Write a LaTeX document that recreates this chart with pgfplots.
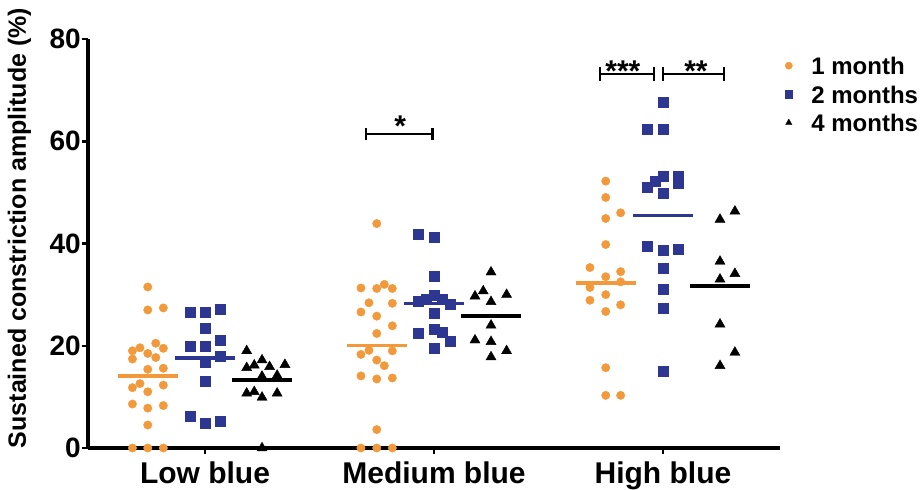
\documentclass[border=0pt]{standalone}
\usepackage{fontspec}
\setmainfont{Liberation Sans}
\usepackage{pgfplots}
\pgfplotsset{compat=1.18}

\definecolor{orng}{RGB}{242,154,59}
\definecolor{navy}{RGB}{45,55,145}

\begin{document}
\begin{tikzpicture}
\begin{axis}[
  name=ax,
  scale only axis,
  width=692pt, height=409pt,
  xmin=-0.511, xmax=2.511, ymin=0, ymax=80,
  axis x line=bottom, axis y line=left,
  axis line style={line width=3.5pt,-},
  xtick={0,1,2}, xticklabels={Low blue,Medium blue,High blue},
  ytick={0,20,40,60,80},
  minor tick num=0,
  tick align=outside, major tick length=6pt,
  tick style={line width=2.5pt,black},
  /pgf/number format/assume math mode=true,
  yticklabel style={font=\fontsize{28}{30}\selectfont\bfseries, inner sep=1pt},
  xticklabel style={font=\fontsize{30}{32}\selectfont\bfseries, yshift=-4pt},
  ylabel={Sustained constriction amplitude (\%)},
  every axis y label/.style={at={(axis description cs:-0.099,0.538)},rotate=90,anchor=center,
    font=\fontsize{25}{27}\selectfont\bfseries},
  clip=false,
  legend cell align=left,
  legend image code/.code={\draw[#1, mark size=3.6pt] plot coordinates {(0pt,0pt)};},
  legend style={at={(axis description cs:1,1)}, anchor=north west,
    xshift=5pt, yshift=-15.5pt, draw=none, fill=none, inner sep=0pt,
    font=\fontsize{24}{26}\selectfont\bfseries, row sep=6.5pt,
    nodes={inner sep=2pt, text height=18pt, text depth=0pt},
    /tikz/every odd column/.append style={column sep=17pt}},
]
% 1 month
\addplot[only marks, mark=*, mark size=4.2pt, color=orng, mark options={draw=orng, fill=orng}] coordinates {
(-0.250,31.5) (-0.250,27.0) (-0.182,27.4)
(-0.317,19.0) (-0.284,19.6) (-0.215,20.5) (-0.182,19.5)
(-0.317,17.4) (-0.250,18.5) (-0.215,17.7)
(-0.250,15.4) (-0.182,15.6)
(-0.317,11.8) (-0.284,12.6) (-0.182,12.3) (-0.250,11.0)
(-0.317,8.6) (-0.250,7.8) (-0.182,8.3) (-0.250,4.5)
(-0.317,0) (-0.250,0) (-0.182,0)
(0.750,43.9)
(0.681,31.3) (0.750,31.2) (0.783,32.0) (0.818,31.2)
(0.716,28.4) (0.818,28.3)
(0.681,26.6) (0.750,25.8) (0.818,23.9) (0.750,22.4)
(0.681,18.3) (0.716,19.1) (0.818,19.0)
(0.750,17.2) (0.783,16.1)
(0.681,14.1) (0.750,13.5) (0.818,13.7)
(0.750,3.6)
(0.681,0) (0.750,0) (0.818,0)
(1.750,52.2) (1.750,49.0) (1.750,44.9) (1.815,46.0) (1.750,39.8)
(1.681,35.3) (1.815,34.5) (1.750,33.5) (1.681,31.4) (1.815,32.5)
(1.681,28.9) (1.750,30.0) (1.815,28.0) (1.750,26.7)
(1.750,15.7) (1.750,10.3) (1.815,10.3)
};
\addlegendentry{1 month}
% 2 months
\addplot[only marks, mark=square*, mark size=5pt, color=navy, mark options={draw=navy, fill=navy}] coordinates {
(-0.066,26.5) (0,26.5) (0.066,27.1) (0,23.4) (-0.066,20.0) (0,20.0) (0.066,21.1)
(0.066,17.9) (0,16.7) (0,13.0) (-0.066,6.3) (0,4.8) (0.066,5.2)
(0.932,41.8) (1,41.3) (1,33.6) (0.932,28.7) (0.965,29.2) (1,29.9) (1.034,29.2)
(1.070,28.1) (1,26.3) (0.932,22.4) (1,23.2) (1.034,22.6) (1.070,20.9) (1,19.6)
(2,67.6) (1.931,62.4) (2,62.4) (2,53.1) (1.965,52.2) (2.067,53.1) (2.067,51.7)
(1.931,51.0) (2,49.9) (1.931,39.5) (2,38.7) (2.067,38.8) (2,35.1) (2,31.0)
(2,27.4) (2,15.0)
};
\addlegendentry{2 months}
% 4 months
\addplot[only marks, mark=triangle*, mark size=5.8pt, color=black, mark options={draw=black, fill=black}] coordinates {
(0.182,19.0) (0.182,15.7) (0.215,16.2) (0.249,17.2) (0.282,15.9) (0.349,16.3)
(0.249,14.0) (0.315,14.2) (0.182,10.7) (0.215,11.0) (0.249,9.9) (0.315,10.7)
(0.249,0)
(1.249,34.4) (1.179,29.7) (1.215,30.7) (1.249,28.6) (1.317,30.0) (1.249,24.0)
(1.179,21.1) (1.249,20.8) (1.317,19.0) (1.249,17.8)
(2.249,44.7) (2.314,46.3) (2.249,36.5) (2.249,33.0) (2.314,34.1) (2.249,24.2)
(2.314,18.7) (2.249,16.1)
};
\addlegendentry{4 months}
% means
\addplot[orng, line width=3.3pt, forget plot] coordinates {(-0.381,14.1) (-0.119,14.1)};
\addplot[navy, line width=3.3pt, forget plot] coordinates {(-0.131,17.6) (0.131,17.6)};
\addplot[black, line width=3.3pt, forget plot] coordinates {(0.118,13.3) (0.380,13.3)};
\addplot[orng, line width=3.3pt, forget plot] coordinates {(0.619,20.1) (0.881,20.1)};
\addplot[navy, line width=3.3pt, forget plot] coordinates {(0.869,28.3) (1.131,28.3)};
\addplot[black, line width=3.3pt, forget plot] coordinates {(1.118,25.8) (1.380,25.8)};
\addplot[orng, line width=3.3pt, forget plot] coordinates {(1.619,32.3) (1.881,32.3)};
\addplot[navy, line width=3.3pt, forget plot] coordinates {(1.869,45.5) (2.131,45.5)};
\addplot[black, line width=3.3pt, forget plot] coordinates {(2.118,31.7) (2.380,31.7)};
% significance brackets
\draw[line width=2.5pt] (axis cs:0.703,61.4) -- (axis cs:0.994,61.4);
\draw[line width=2.5pt] (axis cs:0.703,60.2) -- (axis cs:0.703,62.6);
\draw[line width=2.5pt] (axis cs:0.994,60.2) -- (axis cs:0.994,62.6);
\draw[line width=2.5pt] (axis cs:1.725,73.2) -- (axis cs:1.961,73.2);
\draw[line width=2.5pt] (axis cs:1.725,71.8) -- (axis cs:1.725,74.6);
\draw[line width=2.5pt] (axis cs:1.961,71.8) -- (axis cs:1.961,74.6);
\draw[line width=2.5pt] (axis cs:2.001,73.2) -- (axis cs:2.266,73.2);
\draw[line width=2.5pt] (axis cs:2.001,71.8) -- (axis cs:2.001,74.6);
\draw[line width=2.5pt] (axis cs:2.266,71.8) -- (axis cs:2.266,74.6);
\node[font=\fontsize{30}{32}\selectfont\bfseries, anchor=base] at (axis cs:0.852,60.9) {*};
\node[font=\fontsize{30}{32}\selectfont\bfseries, anchor=base] at (axis cs:1.825,71.7) {***};
\node[font=\fontsize{30}{32}\selectfont\bfseries, anchor=base] at (axis cs:2.144,71.7) {**};
\end{axis}
\pgfresetboundingbox
\path (ax.south west) ++(-88pt,-42pt) rectangle ++(924pt,490pt);
\end{tikzpicture}
\end{document}
